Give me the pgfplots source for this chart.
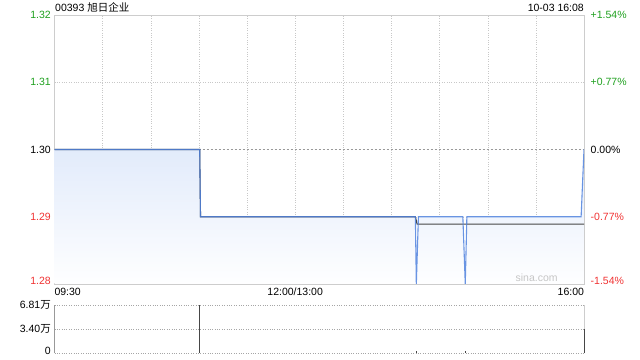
\documentclass[border=0pt]{standalone}
\usepackage{pgfplots}
\pgfplotsset{compat=1.18}
\usepackage{fontspec}
\setmainfont{Liberation Sans}
\newfontfamily\cjk{Noto Sans CJK SC}
\definecolor{upg}{RGB}{30,160,30}
\definecolor{dnr}{RGB}{240,50,50}
\definecolor{pline}{RGB}{80,130,222}
\definecolor{pfill}{RGB}{226,235,251}
\definecolor{avgc}{RGB}{70,70,70}
\definecolor{frame}{RGB}{205,205,205}
\definecolor{gridc}{RGB}{200,200,200}
\begin{document}
\fontsize{10.5bp}{12bp}\selectfont
\begin{tikzpicture}
\path[use as bounding box] (0,0) rectangle (640bp,360bp);
% price panel
\begin{axis}[
  scale only axis, width=529.5bp, height=269bp,
  at={(54.5bp,76bp)}, anchor=south west,
  xmin=0, xmax=330, ymin=1.28, ymax=1.32,
  axis line style={frame},
  major tick length=0pt,
  xtick={0,30,...,330},
  xticklabels={\rlap{09:30},,,,,12:00/13:00,,,,,,\llap{16:00}},
  ytick={1.28,1.29,1.31,1.32},
  yticklabels={\raisebox{6bp}{\textcolor{dnr}{1.28}},\textcolor{dnr}{1.29},\textcolor{upg}{1.31},\raisebox{-5bp}{\textcolor{upg}{1.32}}},
  extra y ticks={1.30}, extra y tick labels={1.30},
  extra y tick style={grid style={gray!80, dash pattern=on 2bp off 2bp}},
  grid=major, grid style={gridc, dotted},
  clip=true,
]
\addplot[draw=none, top color=pfill, bottom color=white!97!pfill] coordinates {
(0,1.30) (90.5,1.30) (91,1.29) (224.9,1.29) (225.5,1.28) (226.8,1.29) (254.5,1.29) (256,1.28) (257,1.29) (328.2,1.29) (330,1.30)
} \closedcycle;
\addplot[avgc, line width=1.1bp] coordinates {
(0,1.30) (90.5,1.30) (91,1.29) (224.9,1.29) (226,1.2889) (330,1.2889)
};
\addplot[pline, line width=1.1bp, opacity=0.85] coordinates {
(0,1.30) (90.5,1.30) (91,1.29) (224.9,1.29) (225.5,1.28) (226.8,1.29) (254.5,1.29) (256,1.28) (257,1.29) (328.2,1.29) (330,1.30)
};
\node[text=gray!45, anchor=center] at (axis cs:300.5,1.2809) {sina.com};
\end{axis}
% right percentage labels
\begin{axis}[
  scale only axis, width=529.5bp, height=269bp,
  at={(54.5bp,76bp)}, anchor=south west,
  xmin=0, xmax=330, ymin=1.28, ymax=1.32,
  hide x axis, axis y line*=right, y axis line style={draw=none},
  major tick length=0pt,
  ytick={1.28,1.29,1.30,1.31,1.32},
  yticklabel style={xshift=3bp},
  yticklabels={\raisebox{6bp}{\textcolor{dnr}{-1.54\%}},\textcolor{dnr}{-0.77\%},0.00\%,\textcolor{upg}{+0.77\%},\raisebox{-5bp}{\textcolor{upg}{+1.54\%}}},
]
\addplot[draw=none] coordinates {(0,1.30)};
\end{axis}
% volume panel
\begin{axis}[
  scale only axis, width=529.5bp, height=48bp,
  at={(54.5bp,7bp)}, anchor=south west,
  xmin=0, xmax=330, ymin=0, ymax=68100,
  axis line style={draw=none},
  major tick length=0pt,
  xtick=\empty,
  scaled y ticks=false,
  ytick={0,34000,68100},
  yticklabels={\raisebox{4bp}{0},3.40{\cjk 万},\raisebox{-6bp}{6.81{\cjk 万}}},
  ymajorgrids, grid style={gray!70, dotted},
  clip=false,
]
\draw[gray!80, line width=0.8bp] (axis cs:0,0) -- (axis cs:0,68100);
\draw[frame, line width=0.8bp] (axis cs:330,0) -- (axis cs:330,68100);
\addplot[ycomb, avgc, line width=1bp, mark=none] coordinates {
(90.5,68100) (225.5,2200) (256,2200) (330,34000)
};
\end{axis}
\node[anchor=west, inner sep=0pt] at (55bp,352.5bp) {00393 {\cjk 旭日企业}};
\node[anchor=east, inner sep=0pt] at (584bp,352.5bp) {10-03 16:08};
\end{tikzpicture}
\end{document}
